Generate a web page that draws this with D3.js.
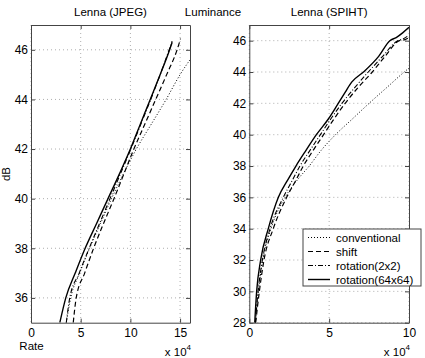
<!DOCTYPE html>
<html><head><meta charset="utf-8">
<script src="https://cdn.jsdelivr.net/npm/d3@7"></script>
<style>
body{margin:0;background:#fff;}
svg text{font-family:"Liberation Sans",Arial,Helvetica,sans-serif;fill:#000;}
</style></head>
<body><svg id="c" width="425" height="358"></svg>
<script>
// ---- data (rate in units of 10^4, PSNR in dB) ----
const seriesNames = ["conventional","shift","rotation(2x2)","rotation(64x64)"];
const jpegConventional = [[3.55,35],[4.0,36],[4.9,37],[5.9,38],[7.0,39],[8.1,40],[9.3,41],[10.6,42],[12.1,43],[13.6,44],[15.0,45],[16.0,45.6]];
const jpegShift = [[4.25,35],[4.55,36],[5.4,37],[6.3,38],[7.3,39],[8.35,40],[9.35,41],[10.35,42],[11.45,43],[12.55,44],[13.65,45],[14.7,46],[15.05,46.45]];
const jpegRot2 = [[3.55,35],[3.9,36],[4.85,37],[5.85,38],[6.9,39],[7.95,40],[9.0,41],[10.05,42],[11.05,43],[12.05,44],[13.0,45],[13.9,46],[14.2,46.35]];
const jpegRot64 = [[2.9,35],[3.5,36],[4.45,37],[5.45,38],[6.6,39],[7.75,40],[8.9,41],[10.0,42],[11.0,43],[12.0,44],[13.0,45],[13.95,46],[14.2,46.3]];
const spihtConventional = [[0.38,28],[0.57,30],[0.84,32],[1.36,34],[2.24,36],[3.0,37.1],[3.75,38],[4.5,39],[5.4,40],[6.45,41],[7.5,42],[8.6,43],[9.7,44],[10,44.25]];
const spihtShift = [[0.4,28],[0.63,30],[0.92,32],[1.5,34],[2.34,36],[2.92,37.1],[3.38,38],[4.0,39],[4.65,40],[5.3,41],[6.0,42],[6.8,43],[7.7,44],[8.5,45],[9.4,46],[9.7,46.05],[10,46.2]];
const spihtRot2 = [[0.38,28],[0.55,30],[0.82,32],[1.3,34],[2.13,36],[2.7,37.1],[3.17,38],[3.8,39],[4.45,40],[5.1,41],[5.8,42],[6.6,43],[7.45,44],[8.35,45],[9.3,46],[9.6,46.1],[10,46.35]];
const spihtRot64 = [[0.34,28],[0.46,30],[0.71,32],[1.19,34],[1.82,36],[2.4,37.1],[2.92,38],[3.55,39],[4.2,40],[4.95,41],[5.57,42],[6.0,42.7],[6.41,43.35],[7.15,44],[8.1,45],[8.8,46],[9.2,46.2],[9.6,46.5],[10,46.85]];
const jpegXTicks = [0,5,10,15];
const jpegYTicks = [36,38,40,42,44,46];
const spihtXTicks = [0,5,10];
const spihtYTicks = [28,30,32,34,36,38,40,42,44,46];

const styles = [
  {dash:"1,2", w:1},
  {dash:"5,3", w:1.2},
  {dash:"5,2,1,2", w:1.1},
  {dash:null, w:1.4}
];

const svg = d3.select("#c");
const frameColor = "#444";

function panel(id, xDom, yDom, x0, x1, y0, y1, xt, yt, series, title){
  const x = d3.scaleLinear().domain(xDom).range([x0,x1]);
  const y = d3.scaleLinear().domain(yDom).range([y1,y0]);
  const g = svg.append("g");
  g.append("rect").attr("x",x0).attr("y",y0).attr("width",x1-x0).attr("height",y1-y0).attr("fill","#fff");
  // grid
  g.selectAll(".gx").data(xt).enter().append("line")
    .attr("x1",d=>x(d)).attr("x2",d=>x(d)).attr("y1",y0).attr("y2",y1)
    .attr("stroke","#999").attr("stroke-width",0.8).attr("stroke-dasharray","1,3");
  g.selectAll(".gy").data(yt).enter().append("line")
    .attr("x1",x0).attr("x2",x1).attr("y1",d=>y(d)).attr("y2",d=>y(d))
    .attr("stroke","#999").attr("stroke-width",0.8).attr("stroke-dasharray","1,3");
  // clip
  svg.append("clipPath").attr("id",id).append("rect").attr("x",x0).attr("y",y0).attr("width",x1-x0).attr("height",y1-y0);
  const line = d3.line().curve(d3.curveMonotoneX).x(d=>x(d[0])).y(d=>y(d[1]));
  const lg = g.append("g").attr("clip-path","url(#"+id+")");
  series.forEach((s,i)=>{
    lg.append("path").datum(s).attr("d",line).attr("fill","none")
      .attr("stroke","#000").attr("stroke-width",styles[i].w)
      .attr("stroke-dasharray",styles[i].dash);
  });
  // axes
  const ax = g.append("g").attr("transform",`translate(0,${y1})`)
    .call(d3.axisBottom(x).tickValues(xt).tickSize(-4).tickSizeOuter(0).tickPadding(6));
  const ay = g.append("g").attr("transform",`translate(${x0},0)`)
    .call(d3.axisLeft(y).tickValues(yt).tickSize(-4).tickSizeOuter(0).tickPadding(3));
  const at = g.append("g").attr("transform",`translate(0,${y0})`)
    .call(d3.axisTop(x).tickValues(xt).tickSize(-4).tickSizeOuter(0).tickFormat(""));
  const ar = g.append("g").attr("transform",`translate(${x1},0)`)
    .call(d3.axisRight(y).tickValues(yt).tickSize(-4).tickSizeOuter(0).tickFormat(""));
  [ax,ay,at,ar].forEach(a=>{
    a.selectAll("path").attr("stroke",frameColor);
    a.selectAll("line").attr("stroke",frameColor);
    a.selectAll("text").style("font-size","12px").style("font-family",'"Liberation Sans",Arial,sans-serif');
  });
  svg.append("text").attr("x",(x0+x1)/2).attr("y",16).attr("text-anchor","middle")
    .style("font-size","11.5px").text(title);
  // exponent label
  const ex = svg.append("text").attr("x",x1+1).attr("y",356).attr("text-anchor","end").style("font-size","11.5px");
  ex.append("tspan").text("x 10");
  ex.append("tspan").attr("dy",-6).style("font-size","8px").text("4");
  return {x,y};
}

panel("cl",[0,16],[35,47],31,190,25,322.7,jpegXTicks,jpegYTicks,
      [jpegConventional,jpegShift,jpegRot2,jpegRot64],"Lenna (JPEG)");
panel("cr",[0,10],[28,47],249.3,409,25,322.7,spihtXTicks,spihtYTicks,
      [spihtConventional,spihtShift,spihtRot2,spihtRot64],"Lenna (SPIHT)");

svg.append("text").attr("x",213).attr("y",16).attr("text-anchor","middle").style("font-size","11.5px").text("Luminance");
svg.append("text").attr("transform","translate(10,174) rotate(-90)").attr("text-anchor","middle").style("font-size","11.5px").text("dB");
svg.append("text").attr("x",31.5).attr("y",350).attr("text-anchor","middle").style("font-size","11.5px").text("Rate");

// legend
const lgd = svg.append("g");
lgd.append("rect").attr("x",303).attr("y",229).attr("width",118).attr("height",57)
  .attr("fill","#fff").attr("stroke",frameColor).attr("stroke-width",1);
seriesNames.forEach((n,i)=>{
  const yy = 237.5 + i*14;
  lgd.append("line").attr("x1",308).attr("x2",330).attr("y1",yy).attr("y2",yy)
    .attr("stroke","#000").attr("stroke-width",styles[i].w).attr("stroke-dasharray",styles[i].dash);
  lgd.append("text").attr("x",336).attr("y",yy).attr("dy","0.35em").style("font-size","11.5px").text(n);
});
</script></body></html>
